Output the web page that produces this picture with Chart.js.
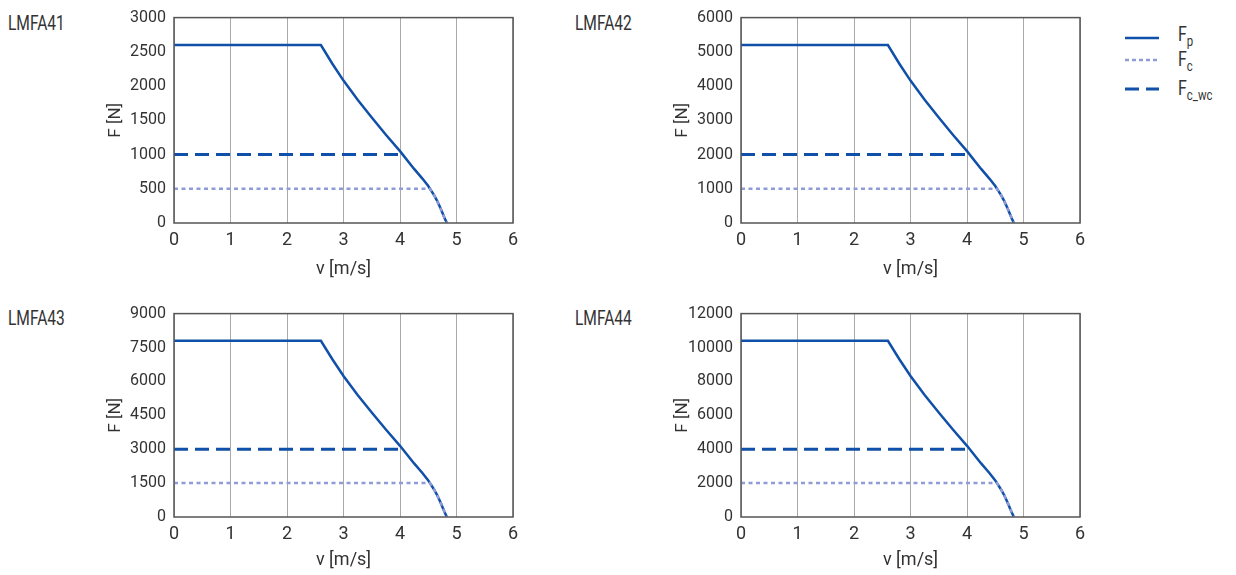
<!DOCTYPE html>
<html>
<head>
<meta charset="utf-8">
<script src="https://cdn.jsdelivr.net/npm/chart.js@4"></script>
<style>
  html, body { margin: 0; padding: 0; background: #fff; overflow: hidden; }
  body { width: 1236px; height: 575px; position: relative; font-family: Roboto, "Noto Sans", sans-serif; color: #333; }
  .wrap { position: absolute; }
  .name { position: absolute; font-size: 21px; transform: scaleX(0.74); transform-origin: 0 0; }
  .legend { position: absolute; left: 1122px; top: 22px; font-size: 21px; }
  .legend div { position: relative; height: 25px; }
  .legend svg { position: absolute; left: 0; top: 0; }
  .legend span { position: absolute; left: 56px; top: 0; transform: scaleX(0.76); transform-origin: 0 0; white-space: nowrap; }
  .legend sub { font-size: 15px; vertical-align: -5px; }
</style>
</head>
<body>

<div class="name" style="left:8px; top:11px;">LMFA41</div>
<div class="name" style="left:575px; top:11px;">LMFA42</div>
<div class="name" style="left:8px; top:306px;">LMFA43</div>
<div class="name" style="left:575px; top:306px;">LMFA44</div>

<div class="wrap" style="left:90px; top:0px;"><canvas id="c41" width="440" height="290"></canvas></div>
<div class="wrap" style="left:657px; top:0px;"><canvas id="c42" width="440" height="290"></canvas></div>
<div class="wrap" style="left:90px; top:296px;"><canvas id="c43" width="440" height="279"></canvas></div>
<div class="wrap" style="left:657px; top:296px;"><canvas id="c44" width="440" height="279"></canvas></div>

<div class="legend">
  <div style="top:0px;"><svg width="40" height="30"><line x1="3" y1="16" x2="37" y2="16" stroke="#1150a8" stroke-width="2.5"/></svg><span>F<sub>p</sub></span></div>
  <div style="top:0px;"><svg width="40" height="30"><line x1="3" y1="13" x2="37" y2="13" stroke="#8f9cd8" stroke-width="2.5" stroke-dasharray="4 3"/></svg><span>F<sub>c</sub></span></div>
  <div style="top:4px;"><svg width="40" height="30"><line x1="3" y1="13" x2="37" y2="13" stroke="#1150a8" stroke-width="3" stroke-dasharray="14 7"/></svg><span>F<sub>c_wc</sub></span></div>
</div>

<script>
// speed axis points [m/s]
const speedFp = [0, 2.6, 2.8, 3.0, 3.25, 3.5, 3.75, 4.0, 4.25, 4.4, 4.5, 4.53, 4.6, 4.65, 4.69, 4.73, 4.76, 4.79, 4.81, 4.83];
const speedFc = [0, 4.53, 4.6, 4.65, 4.69, 4.73, 4.76, 4.79, 4.81, 4.83];
const speedFcWc = [0, 4.06];

// peak force Fp [N]
const fp41 = [2600, 2600, 2330, 2080, 1800, 1540, 1290, 1050, 790, 645, 540, 500, 410, 335, 265, 190, 130, 70, 35, 0];
const fp42 = [5200, 5200, 4660, 4160, 3600, 3080, 2580, 2100, 1580, 1290, 1080, 1000, 820, 670, 530, 380, 260, 140, 70, 0];
const fp43 = [7800, 7800, 6990, 6240, 5400, 4620, 3870, 3150, 2370, 1935, 1620, 1500, 1230, 1005, 795, 570, 390, 210, 105, 0];
const fp44 = [10400, 10400, 9320, 8320, 7200, 6160, 5160, 4200, 3160, 2580, 2160, 2000, 1640, 1340, 1060, 760, 520, 280, 140, 0];

// continuous force Fc [N]
const fc41 = [500, 500, 410, 335, 265, 190, 130, 70, 35, 0];
const fc42 = [1000, 1000, 820, 670, 530, 380, 260, 140, 70, 0];
const fc43 = [1500, 1500, 1230, 1005, 795, 570, 390, 210, 105, 0];
const fc44 = [2000, 2000, 1640, 1340, 1060, 760, 520, 280, 140, 0];

// continuous force water cooled Fc_wc [N]
const fcwc41 = [1000, 1000];
const fcwc42 = [2000, 2000];
const fcwc43 = [3000, 3000];
const fcwc44 = [4000, 4000];

// y axis tick settings
const yMax = [3000, 6000, 9000, 12000];
const yStep = [500, 1000, 1500, 2000];

const FONT = "Roboto, 'Noto Sans', sans-serif";
const TXT = '#333';

function pts(xs, ys)
{
	return xs.map((x, i) => ({ x: x, y: ys[i] }));
}

// 外枠を描く
const boxPlugin = {
	id: 'box',
	afterDatasetsDraw(chart)
	{
		const a = chart.chartArea;
		const ctx = chart.ctx;
		ctx.save();
		ctx.strokeStyle = '#555';
		ctx.lineWidth = 1.5;
		ctx.strokeRect(a.left, a.top, a.right - a.left, a.bottom - a.top);
		ctx.restore();
	}
};

function drawChart(id, fp, fc, fcwc, max, step, axisH, titlePad)
{
	const ctx = document.getElementById(id).getContext('2d');
	new Chart(ctx, {
		type: 'line',
		data: {
			datasets: [
			{
				label: 'Fc',
				data: pts(speedFc, fc),
				borderColor: '#8f9cd8',
				borderWidth: 2.5,
				borderDash: [4, 3.5],
				pointRadius: 0,
				tension: 0
			},
			{
				label: 'Fc_wc',
				data: pts(speedFcWc, fcwc),
				borderColor: '#1150a8',
				borderWidth: 3,
				borderDash: [14, 7],
				pointRadius: 0,
				tension: 0
			},
			{
				label: 'Fp',
				data: pts(speedFp, fp),
				borderColor: '#1150a8',
				borderWidth: 2.5,
				pointRadius: 0,
				tension: 0
			}]
		},
		options: {
			responsive: false,
			animation: false,
			layout: { padding: { top: 17, right: 17, left: 0, bottom: 0 } },
			plugins: { legend: { display: false }, tooltip: { enabled: false } },
			scales: {
				x: {
					type: 'linear',
					min: 0,
					max: 6,
					ticks: { stepSize: 1, padding: 7, color: TXT, font: { family: FONT, size: 18 } },
					grid: { color: '#aaa', lineWidth: 1, drawTicks: false },
					border: { display: false },
					title: { display: true, text: 'v [m/s]', color: TXT, font: { family: FONT, size: 18 }, padding: { top: 0, bottom: titlePad } },
					afterFit: s => { s.height = axisH; }
				},
				y: {
					min: 0,
					max: max,
					ticks: { stepSize: step, padding: 8, color: TXT, font: { family: FONT, size: 16 }, callback: v => String(v) },
					grid: { display: false, drawTicks: false },
					border: { display: false },
					title: { display: true, text: 'F [N]', color: TXT, font: { family: FONT, size: 17 }, padding: { top: 16, bottom: 0 } },
					afterFit: s => { s.width = 84; }
				}
			}
		},
		plugins: [boxPlugin]
	});
}

drawChart('c41', fp41, fc41, fcwc41, yMax[0], yStep[0], 67, 10);
drawChart('c42', fp42, fc42, fcwc42, yMax[1], yStep[1], 67, 10);
drawChart('c43', fp43, fc43, fcwc43, yMax[2], yStep[2], 58, 4);
drawChart('c44', fp44, fc44, fcwc44, yMax[3], yStep[3], 58, 4);
</script>
</body>
</html>
